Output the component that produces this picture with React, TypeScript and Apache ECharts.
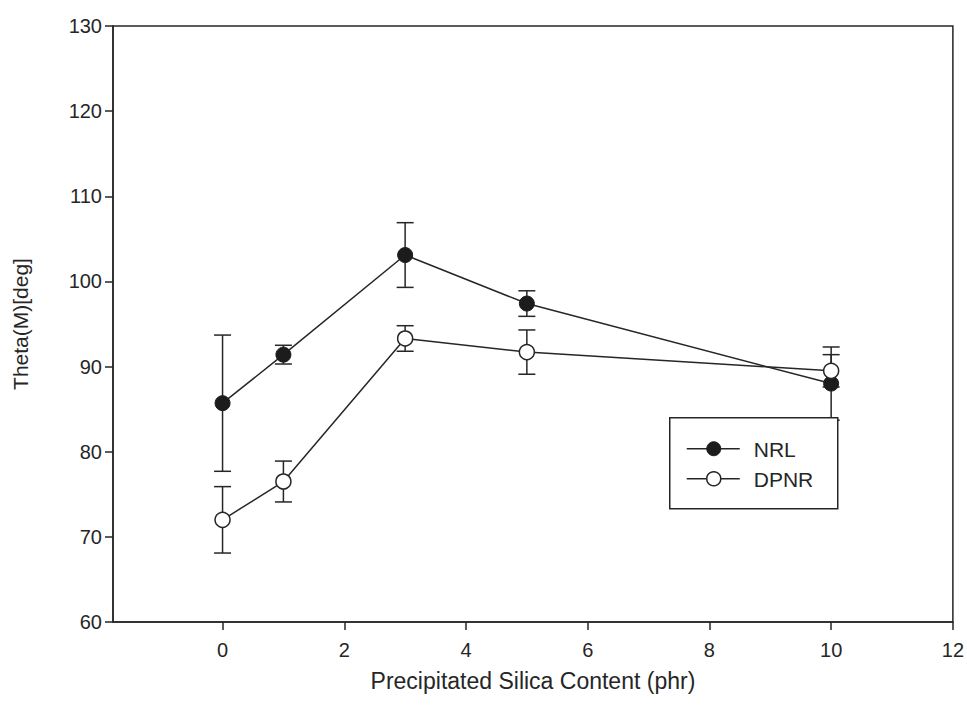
import React, { useEffect, useRef } from "react";
import * as echarts from "echarts";

const xValues = [0, 1, 3, 5, 10];
const nrlValues = [85.7, 91.4, 103.1, 97.4, 88.0];
const nrlErrors = [8.0, 1.1, 3.8, 1.5, 4.3];
const dpnrValues = [72.0, 76.5, 93.3, 91.7, 89.5];
const dpnrErrors = [3.9, 2.4, 1.5, 2.6, 1.9];
const xTickValues = [0, 2, 4, 6, 8, 10, 12];
const seriesNames = ["NRL", "DPNR"];

const FONT = "Liberation Sans, Arial, Helvetica, sans-serif";
const INK = "#262626";

function pairs(vals: number[]) {
  return xValues.map((x, i) => [x, vals[i]]);
}
function errData(vals: number[], errs: number[]) {
  return xValues.map((x, i) => [x, vals[i] - errs[i], vals[i] + errs[i]]);
}

const errorRender = (params: any, api: any) => {
  const x = api.value(0);
  const lo = api.coord([x, api.value(1)]);
  const hi = api.coord([x, api.value(2)]);
  const hw = 8.5;
  const style = { stroke: INK, lineWidth: 1.5 };
  return {
    type: "group",
    children: [
      { type: "line", shape: { x1: lo[0], y1: lo[1], x2: hi[0], y2: hi[1] }, style },
      { type: "line", shape: { x1: lo[0] - hw, y1: lo[1], x2: lo[0] + hw, y2: lo[1] }, style },
      { type: "line", shape: { x1: hi[0] - hw, y1: hi[1], x2: hi[0] + hw, y2: hi[1] }, style },
    ],
  };
};

export default function App() {
  const ref = useRef<HTMLDivElement>(null);
  useEffect(() => {
    if (!ref.current) return;
    const chart = echarts.init(ref.current, undefined, { renderer: "svg" });
    const legendX = 669;
    const legendY = 417;
    chart.setOption({
      animation: false,
      backgroundColor: "#ffffff",
      grid: {
        left: 113,
        right: 14,
        top: 26,
        bottom: 99,
        show: true,
        borderColor: INK,
        borderWidth: 1.5,
        backgroundColor: "transparent",
      },
      xAxis: {
        type: "value",
        min: -1.8,
        max: 12,
        name: "Precipitated Silica Content (phr)",
        nameLocation: "middle",
        nameGap: 47,
        nameTextStyle: { fontFamily: FONT, fontSize: 23, color: INK },
        axisLine: { show: true, onZero: false, lineStyle: { color: INK, width: 1.5 } },
        axisTick: { show: true, length: 8, customValues: xTickValues, lineStyle: { color: INK, width: 1.5 } },
        axisLabel: {
          customValues: xTickValues,
          fontFamily: FONT,
          fontSize: 20,
          color: INK,
          margin: 18,
        },
        splitLine: { show: false },
      },
      yAxis: {
        type: "value",
        min: 60,
        max: 130,
        interval: 10,
        name: "Theta(M)[deg]",
        nameLocation: "middle",
        nameGap: 82,
        nameTextStyle: { fontFamily: FONT, fontSize: 21, color: INK },
        axisLine: { show: true, onZero: false, lineStyle: { color: INK, width: 1.5 } },
        axisTick: { show: true, length: 8, lineStyle: { color: INK, width: 1.5 } },
        axisLabel: { fontFamily: FONT, fontSize: 20, color: INK, margin: 11 },
        splitLine: { show: false },
      },
      series: [
        {
          type: "custom",
          name: "NRL err",
          renderItem: errorRender,
          data: errData(nrlValues, nrlErrors),
          z: 1,
          silent: true,
        },
        {
          type: "custom",
          name: "DPNR err",
          renderItem: errorRender,
          data: errData(dpnrValues, dpnrErrors),
          z: 1,
          silent: true,
        },
        {
          type: "line",
          name: seriesNames[0],
          data: pairs(nrlValues),
          symbol: "circle",
          symbolSize: 15,
          lineStyle: { color: INK, width: 1.5 },
          itemStyle: { color: "#1c1c1c", borderColor: "#1c1c1c", borderWidth: 1 },
          z: 3,
          silent: true,
        },
        {
          type: "line",
          name: seriesNames[1],
          data: pairs(dpnrValues),
          symbol: "circle",
          symbolSize: 15,
          lineStyle: { color: INK, width: 1.5 },
          itemStyle: { color: "#ffffff", borderColor: INK, borderWidth: 1.5 },
          z: 3,
          silent: true,
        },
      ],
      graphic: [
        {
          type: "group",
          left: legendX,
          top: legendY,
          z: 100,
          children: [
            {
              type: "rect",
              shape: { x: 0, y: 0, width: 168, height: 91 },
              style: { fill: "#ffffff", stroke: INK, lineWidth: 1.5 },
              z: 100,
            },
            { type: "line", shape: { x1: 17, y1: 31, x2: 70, y2: 31 }, style: { stroke: INK, lineWidth: 1.5 }, z: 101 },
            { type: "circle", shape: { cx: 44, cy: 31, r: 7 }, style: { fill: "#1c1c1c", stroke: "#1c1c1c" }, z: 102 },
            {
              type: "text",
              x: 84,
              y: 32,
              style: { text: seriesNames[0], font: `21px ${FONT}`, fill: INK, verticalAlign: "middle" },
              z: 102,
            },
            { type: "line", shape: { x1: 17, y1: 61, x2: 70, y2: 61 }, style: { stroke: INK, lineWidth: 1.5 }, z: 101 },
            { type: "circle", shape: { cx: 44, cy: 61, r: 7 }, style: { fill: "#ffffff", stroke: INK, lineWidth: 1.5 }, z: 102 },
            {
              type: "text",
              x: 84,
              y: 62,
              style: { text: seriesNames[1], font: `21px ${FONT}`, fill: INK, verticalAlign: "middle" },
              z: 102,
            },
          ],
        },
      ],
    });
    return () => chart.dispose();
  }, []);
  return (
    <div
      ref={ref}
      style={{ position: "fixed", left: 0, top: 0, width: 967, height: 721, background: "#fff" }}
    />
  );
}
